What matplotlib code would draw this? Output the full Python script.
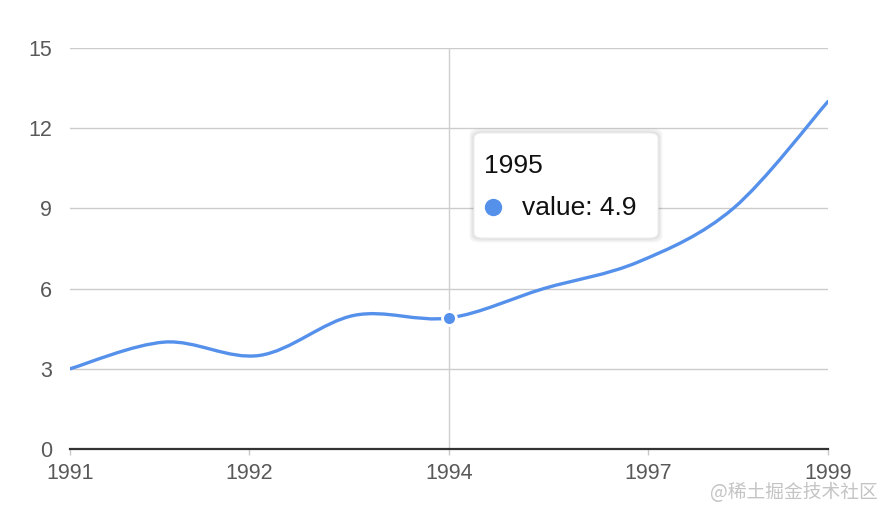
import numpy as np
import matplotlib

matplotlib.use("Agg")
import matplotlib.pyplot as plt
from matplotlib.path import Path
from matplotlib.patches import PathPatch, FancyBboxPatch
from matplotlib.lines import Line2D

# ===================== Data =====================
years = np.array([1991, 1992, 1993, 1994, 1995, 1996, 1997, 1998, 1999])
values = np.array([3, 4, 3.5, 5, 4.9, 6, 7, 9, 13])

# axis ticks as shown in the picture (time-scale labels)
xtick_pos = [1991, 1992.89, 1995, 1997.1, 1999]
xtick_labels = ["1991", "1992", "1994", "1997", "1999"]
yticks = [0, 3, 6, 9, 12, 15]

active_year = 1995
active_value = 4.9

# ===================== Style =====================
W, H = 894, 518
line_color = "#5590EB"
plt.rcParams.update({
    "font.family": ["Liberation Sans", "DejaVu Sans"],
    "font.size": 15,
})

fig = plt.figure(figsize=(W / 100, H / 100), dpi=100)
fig.patch.set_facecolor("white")
ax = fig.add_axes([70 / W, 1 - 449 / H, (828 - 70) / W, (449 - 48) / H])
ax.set_facecolor("white")


def px(x, y):
    # pixel coords (top-left origin) -> figure fraction
    return x / W, 1 - y / H


# ===================== Smooth line (catmull-rom -> bezier) =====================
pts = np.column_stack([years, values]).astype(float)
ext = np.vstack([pts[0], pts, pts[-1]])
verts = [tuple(pts[0])]
codes = [Path.MOVETO]
for i in range(1, len(ext) - 2):
    p0, p1, p2, p3 = ext[i - 1], ext[i], ext[i + 1], ext[i + 2]
    c1 = p1 + (p2 - p0) / 6
    c2 = p2 - (p3 - p1) / 6
    verts += [tuple(c1), tuple(c2), tuple(p2)]
    codes += [Path.CURVE4] * 3
ax.add_patch(PathPatch(Path(verts, codes), facecolor="none", edgecolor=line_color,
                       lw=2.4, capstyle="round", joinstyle="round", zorder=4))

# crosshair + active point
ax.axvline(active_year, color="#cfcfcf", lw=1, zorder=2)
ax.plot([active_year], [active_value], "o", ms=10, color=line_color,
        mec="white", mew=2, zorder=5, clip_on=False)

# ===================== Axes =====================
ax.set_xlim(1991, 1999)
ax.set_ylim(0, 15)
ax.set_yticks(yticks)
ax.set_xticks(xtick_pos)
ax.set_xticklabels(xtick_labels)
ax.yaxis.grid(True, color="#cccccc", lw=1)
ax.set_axisbelow(True)

for sp in ["left", "top", "right"]:
    ax.spines[sp].set_visible(False)
ax.spines["bottom"].set_color("#333333")
ax.spines["bottom"].set_linewidth(1.6)
ax.spines["bottom"].set_zorder(3)

ax.tick_params(axis="y", length=0, pad=13, labelcolor="#595959", labelsize=15.5)
ax.tick_params(axis="x", length=4, width=1, color="#c8c8c8", pad=6,
               labelcolor="#595959", labelsize=15.5)

# ===================== Tooltip =====================
bx, by = px(474, 238)
bw, bh = 184 / W, 105 / H
for k, a in enumerate([0.04, 0.04, 0.05]):
    s = (3 - k) * 1.5
    fig.patches.append(FancyBboxPatch(
        (bx - s / W, by - s / H), bw + 2 * s / W, bh + 2 * s / H,
        boxstyle="round,pad=0,rounding_size=0.012", transform=fig.transFigure,
        facecolor="#000000", edgecolor="none", alpha=a, zorder=9))
fig.patches.append(FancyBboxPatch(
    (bx, by), bw, bh, boxstyle="round,pad=0,rounding_size=0.01",
    transform=fig.transFigure, facecolor="white", edgecolor="#eeeeee",
    lw=0.8, zorder=10))
fig.text(*px(484, 166), str(active_year), fontsize=19, color="#111111",
         va="center", ha="left", zorder=11)
cx, cy = px(493, 207)
fig.lines.append(Line2D([cx], [cy], marker="o", ms=12.5, color=line_color,
                        mec="none", transform=fig.transFigure, zorder=11))
fig.text(*px(522, 208), f"value: {active_value}", fontsize=19, color="#111111",
         va="center", ha="left", zorder=11)

# ===================== Watermark =====================
fig.text(*px(878, 492), "@稀土掘金技术社区", fontsize=13.5, color="#c4c4c4",
         ha="right", va="center",
         family=["Noto Sans CJK SC", "DejaVu Sans"], zorder=12)

plt.savefig("out.png", dpi=100)
